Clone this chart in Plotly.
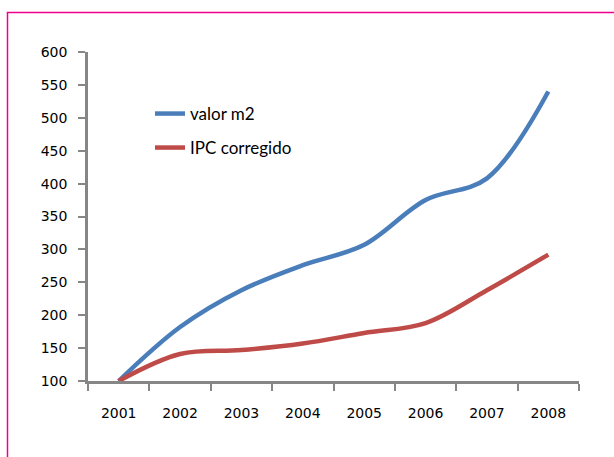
import plotly.graph_objects as go

years = ["2001", "2002", "2003", "2004", "2005", "2006", "2007", "2008"]
valor_m2 = [100, 182, 238, 276, 307, 375, 408, 540]
ipc_corregido = [100, 141, 147, 157, 173, 188, 238, 292]
y_ticks = [100, 150, 200, 250, 300, 350, 400, 450, 500, 550, 600]

AX = "#868686"
L, R, T, B = 88, 35, 52, 76
W, H = 614, 457
pw = W - L - R
ph = H - T - B

def px_x(p):
    return (p - L) / pw

def px_y(p):
    return (H - B - p) / ph

fig = go.Figure()
fig.add_trace(go.Scatter(x=years, y=valor_m2, mode="lines", name="valor m2",
                         line=dict(color="#4A7EBB", width=4.5, shape="spline", smoothing=1),
                         legend="legend"))
fig.add_trace(go.Scatter(x=years, y=ipc_corregido, mode="lines", name="IPC corregido",
                         line=dict(color="#BE4B48", width=4.5, shape="spline", smoothing=1),
                         legend="legend2"))

legend_font = dict(family="Lato", size=17, color="#000000")
tick_font = dict(family="DejaVu Sans", size=14, color="#000000")
fig.update_layout(
    width=W, height=H,
    margin=dict(l=L, r=R, t=T, b=B),
    paper_bgcolor="white", plot_bgcolor="white",
    showlegend=True,
    legend=dict(x=px_x(150), y=px_y(114), xanchor="left", yanchor="middle",
                font=legend_font, bgcolor="rgba(0,0,0,0)", itemwidth=30),
    legend2=dict(x=px_x(150), y=px_y(148), xanchor="left", yanchor="middle",
                 font=legend_font, bgcolor="rgba(0,0,0,0)", itemwidth=30),
    xaxis=dict(type="category", range=[-0.5, 7.5], tickson="boundaries",
               showgrid=False, zeroline=False, showline=True, linecolor=AX, linewidth=2.5,
               ticks="outside", ticklen=7, tickwidth=2, tickcolor=AX,
               tickfont=tick_font, ticklabelstandoff=17),
    yaxis=dict(range=[100, 600], tickvals=y_ticks, showgrid=False, zeroline=False,
               showline=True, linecolor=AX, linewidth=2.5,
               ticks="outside", ticklen=7, tickwidth=2, tickcolor=AX,
               tickfont=tick_font, ticklabelstandoff=8),
    shapes=[dict(type="rect", xref="paper", yref="paper",
                 x0=px_x(7.5), x1=px_x(640), y0=px_y(480), y1=px_y(12.5),
                 line=dict(color="#EC008C", width=1.5), fillcolor="rgba(0,0,0,0)",
                 layer="below")],
)

fig.write_html("out.html", config={"displayModeBar": False},
               post_script="document.body.style.margin='0';document.body.style.overflow='hidden';")
